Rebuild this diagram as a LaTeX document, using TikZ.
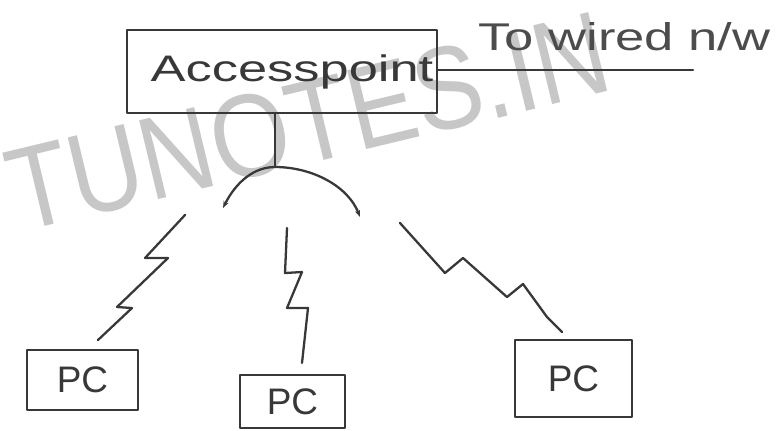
\documentclass[tikz,border=0pt]{standalone}
\usepackage{fontspec}
\setmainfont{Liberation Sans}
\usepackage{graphicx}
\usepackage{tikz}
\usetikzlibrary{arrows.meta,calc,positioning}

\begin{document}
\begin{tikzpicture}[
    x=0.2mm, y=-0.2mm,
    >=Stealth,
    ink/.style={draw=black!78, line width=1.3pt, line join=round, line cap=round},
    box/.style={ink, rectangle, inner sep=0pt, align=center, text=black!78},
    pcbox/.style={box, font=\fontsize{21}{24}\selectfont},
    note/.style={text=black!70, font=\fontsize{22}{26}\selectfont},
    wmark/.style={text=black!22, font=\fontsize{67}{67}\selectfont}
]
    \useasboundingbox (0,0) rectangle (781,430);

    % watermark
    \node[wmark, rotate=13.5] (WM) at (308,122) {\scalebox{0.86}[1]{TUNOTES.IN}};

    \node[box, minimum width=62mm, minimum height=16.6mm,
          font=\fontsize{21}{24}\selectfont] (AP) at (282,71.5) {\hspace*{4mm}\scalebox{1.42}[1]{Accesspoint}};

    \node[pcbox, minimum width=22.2mm, minimum height=12mm]   (PC1) at (82.5,380)  {PC};
    \node[pcbox, minimum width=21mm,   minimum height=10.6mm] (PC2) at (292.5,401.5) {PC};
    \node[pcbox, minimum width=23.4mm, minimum height=15.4mm] (PC3) at (573.5,378.5) {PC};

    \coordinate (AP_out) at (693,70);
    \coordinate (ArcTop) at (275,167);
    \coordinate (ArcL)   at (223,208);
    \coordinate (ArcR)   at (360,217);

    \node[note, anchor=base west, inner sep=0pt] (Wired) at (478,50) {\scalebox{1.36}[1]{To wired n/w}};

    \draw[ink] (AP.east |- AP_out) -- (AP_out);
    \draw[ink] (AP.south -| ArcTop) -- (ArcTop);
    \draw[ink, {Stealth[length=4pt,width=3pt]}-{Stealth[length=4pt,width=3pt]}]
        (ArcL) .. controls (236,182) and (254,167) .. (ArcTop)
               .. controls (312,167) and (348,186) .. (ArcR);

    % wireless links
    \coordinate (Z1_top) at (185,215);  \coordinate (Z1_end) at (98,340);
    \coordinate (Z2_top) at (287,228);  \coordinate (Z2_end) at (302,363);
    \coordinate (Z3_top) at (400,223);  \coordinate (Z3_end) at (562,332);

    \draw[ink] (Z1_top) -- (145,258) -- (168,258) -- (117,307) -- (132,308) -- (Z1_end);
    \draw[ink] (Z2_top) -- (285,273) -- (302,272) -- (287,308) -- (308,308) -- (Z2_end);
    \draw[ink] (Z3_top) -- (445,273) -- (463,258) -- (507,297) -- (523,284)
               -- (547,317) -- (Z3_end);

\end{tikzpicture}
\end{document}
